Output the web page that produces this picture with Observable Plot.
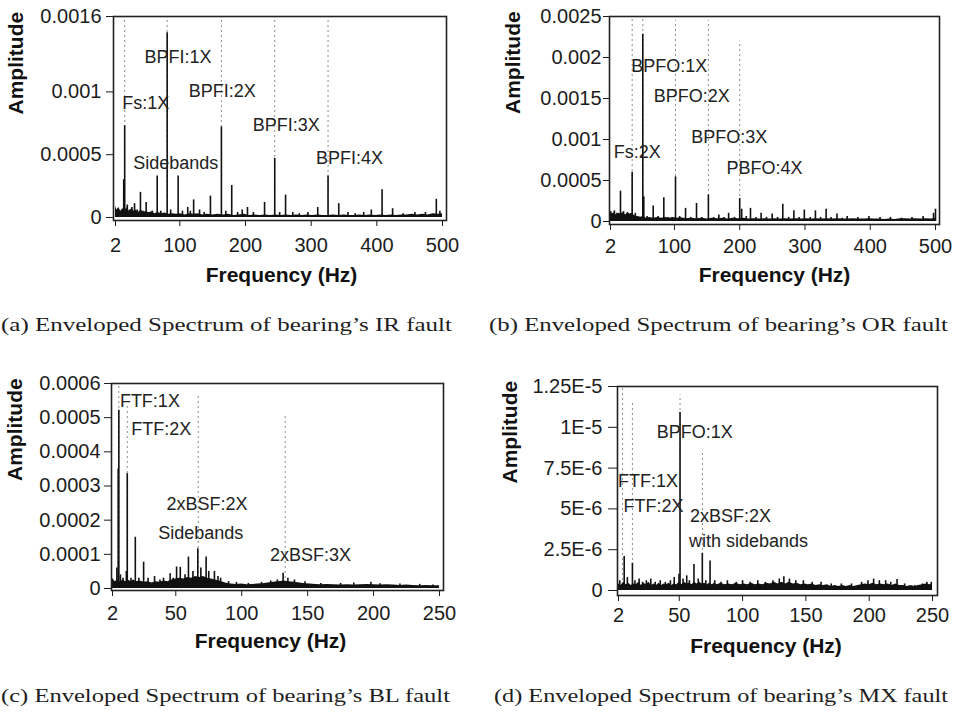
<!DOCTYPE html>
<html>
<head>
<meta charset="utf-8">
<script src="https://cdn.jsdelivr.net/npm/d3@7"></script>
<script src="https://cdn.jsdelivr.net/npm/@observablehq/plot@0.6"></script>
<style>
  html, body { margin: 0; padding: 0; background: #fff; }
  #root { position: relative; width: 959px; height: 716px; overflow: hidden; background: #fff; }
  .panel { position: absolute; }
  #captions { position: absolute; left: 0; top: 0; }
</style>
</head>
<body>
<div id="root"></div>
<script>
// ---------------- DATA ----------------
// Panel (a): IR fault, spectral peaks [frequency Hz, amplitude]
const spikesA = [[14.5,3.0e-4],[16,7.3e-4],[20,1.0e-4],[24,6e-5],[27,8e-5],[31,1.1e-4],[35,6e-5],[40,2.0e-4],[44,5e-5],[48.7,1.2e-4],[53,4e-5],[58,5e-5],[65.5,3.3e-4],[71,5e-5],[80.7,1.47e-3],[86,6e-5],[97.4,3.3e-4],[104,5e-5],[112,8e-5],[116,5e-5],[121,1.4e-4],[130,6e-5],[137,4e-5],[146.6,1.7e-4],[163.3,7.2e-4],[170,5e-5],[179,2.55e-4],[188,4e-5],[195,6e-5],[203,8e-5],[212,4e-5],[229,1.2e-4],[244.5,4.7e-4],[252,4e-5],[261,1.78e-4],[272,4e-5],[282,3e-5],[295,4e-5],[310,8e-5],[325.7,3.3e-4],[342,1.1e-4],[356,4e-5],[367,3e-5],[380,4e-5],[391.6,6e-5],[408,2.2e-4],[424,7e-5],[440,3e-5],[458,4e-5],[474,4e-5],[490.6,1.45e-4],[496,5e-5]];
const floorA = [[2,9e-5],[4,6e-5],[7,8e-5],[10,5e-5],[13,7e-5],[17,6e-5],[20,8e-5],[23,5e-5],[27,7e-5],[30,5e-5],[33,6e-5],[37,4e-5],[41,6e-5],[45,4e-5],[49,5e-5],[53,3.5e-5],[57,4.5e-5],[62,3e-5],[67,4e-5],[72,3e-5],[77,3.5e-5],[83,2.5e-5],[89,3e-5],[95,2.5e-5],[101,3e-5],[108,2e-5],[115,3e-5],[121,2.5e-5],[128,3e-5],[135,2e-5],[142,2.5e-5],[150,2e-5],[158,2.5e-5],[166,2e-5],[174,2.5e-5],[182,1.5e-5],[190,2e-5],[198,2.5e-5],[206,1.5e-5],[214,2e-5],[222,1.5e-5],[230,2e-5],[238,1.5e-5],[246,2e-5],[254,1.5e-5],[262,2e-5],[270,1.5e-5],[278,2e-5],[286,1.5e-5],[294,2e-5],[302,1.5e-5],[310,2e-5],[318,1.5e-5],[326,1.5e-5],[334,2e-5],[342,1.5e-5],[350,2e-5],[358,1.5e-5],[366,1.5e-5],[374,2e-5],[382,1.5e-5],[390,2e-5],[398,1.5e-5],[406,2e-5],[414,1.5e-5],[422,2e-5],[430,1.5e-5],[438,2e-5],[446,2e-5],[454,2.5e-5],[462,2e-5],[470,2.5e-5],[478,2e-5],[486,3e-5],[494,2.5e-5],[500,3e-5]];
const guidesA = [[16,1.6e-3],[80.7,1.6e-3],[163.3,1.6e-3],[244.5,1.6e-3],[325.7,1.6e-3]];
const labelsA = [{t:"BPFI:1X",f:46,a:1.274e-3},{t:"Fs:1X",f:12.2,a:9.07e-4},{t:"BPFI:2X",f:113.6,a:1.003e-3},{t:"BPFI:3X",f:211,a:7.32e-4},{t:"Sidebands",f:29,a:4.3e-4},{t:"BPFI:4X",f:307.5,a:4.7e-4}];
const xTicksA = [2,100,200,300,400,500];
const yTicksA = [0,0.0005,0.001,0.0016];
const yTickLabelsA = ["0","0.0005","0.001","0.0016"];

// Panel (b): OR fault
const spikesB = [[2.5,1.2e-4],[8,1.3e-4],[12,1e-4],[17.3,3.7e-4],[22,1.2e-4],[28,1.1e-4],[35.2,6.0e-4],[40,1e-4],[45,6e-5],[51.5,2.285e-3],[53,3e-4],[58,6e-5],[67.4,1.9e-4],[75,6e-5],[83.7,2.9e-4],[90,5e-5],[101.6,5.45e-4],[108,6e-5],[117,1.6e-4],[125,5e-5],[133.8,2.2e-4],[142,5e-5],[152,3.25e-4],[160,5e-5],[168,8e-5],[176,5e-5],[183,1.0e-4],[192,5e-5],[200,2.8e-4],[203,1.5e-4],[210,6e-5],[216.5,1.6e-4],[225,5e-5],[232.8,1.0e-4],[241,5e-5],[249.7,9e-5],[258,5e-5],[266,2.1e-4],[275,5e-5],[283,1.3e-4],[291,5e-5],[299,1.4e-4],[308,5e-5],[316,1.3e-4],[324,5e-5],[332.4,1.5e-4],[340,5e-5],[349,9e-5],[357,4e-5],[364.6,6e-5],[381,5e-5],[398,6e-5],[415,5e-5],[431,5e-5],[448,4e-5],[464,5e-5],[481,6e-5],[497,1.0e-4],[500,1.5e-4]];
const floorB = [[2,1.2e-4],[5,9e-5],[8,1.1e-4],[11,8e-5],[14,1e-4],[18,9e-5],[21,1.1e-4],[25,8e-5],[28,1e-4],[32,9e-5],[35,1e-4],[39,7e-5],[43,6e-5],[47,5e-5],[52,6e-5],[57,4e-5],[62,5e-5],[68,4e-5],[74,5e-5],[80,4e-5],[86,5e-5],[92,4e-5],[98,5e-5],[104,4e-5],[110,4.5e-5],[118,3.5e-5],[126,4e-5],[134,3.5e-5],[142,4e-5],[150,3e-5],[158,4e-5],[166,3.5e-5],[174,4e-5],[182,3e-5],[190,4e-5],[198,3.5e-5],[206,4e-5],[214,3e-5],[222,3.5e-5],[230,3e-5],[238,3.5e-5],[246,3e-5],[254,3.5e-5],[262,3e-5],[270,3.5e-5],[278,3e-5],[286,3.5e-5],[294,3e-5],[302,3.5e-5],[310,3e-5],[318,3.5e-5],[326,3e-5],[334,3.5e-5],[342,3e-5],[350,3.5e-5],[358,3e-5],[366,3e-5],[374,3.5e-5],[382,3e-5],[390,3e-5],[398,3.5e-5],[406,3e-5],[414,3e-5],[422,2.5e-5],[430,3e-5],[438,2.5e-5],[446,3.5e-5],[454,3.5e-5],[462,3e-5],[470,3.5e-5],[478,3e-5],[486,3.5e-5],[494,3e-5],[500,4e-5]];
const guidesB = [[35.2,2.5e-3],[51.5,2.5e-3],[101.6,2.45e-3],[152,2.45e-3],[200,2.2e-3]];
const labelsB = [{t:"BPFO:1X",f:33.7,a:1.888e-3},{t:"BPFO:2X",f:68.4,a:1.533e-3},{t:"Fs:2X",f:7.1,a:8.41e-4},{t:"BPFO:3X",f:125.6,a:1.024e-3},{t:"PBFO:4X",f:179.7,a:6.54e-4}];
const xTicksB = [2,100,200,300,400,500];
const yTicksB = [0,0.0005,0.001,0.0015,0.002,0.0025];
const yTickLabelsB = ["0","0.0005","0.001","0.0015","0.002","0.0025"];

// Panel (c): BL fault
const spikesC = [[3,2e-5],[5.3,6e-5],[6.3,3.5e-4],[6.8,5.22e-4],[8,4e-5],[10,3e-5],[12.5,5e-5],[13.2,3.36e-4],[16,3e-5],[19.3,1.5e-4],[22,3e-5],[25.6,7.7e-5],[29,3e-5],[33.9,3.5e-5],[38,2.5e-5],[40.7,3e-5],[45.7,4.3e-5],[48,3e-5],[50.6,6.3e-5],[53.4,6.2e-5],[57,4e-5],[59.6,9.2e-5],[63,5e-5],[66.7,1.16e-4],[69,6e-5],[73,9.2e-5],[75,5e-5],[79.3,5e-5],[82,3.5e-5],[84,3e-5],[90,2e-5],[96,1.8e-5],[105,1.5e-5],[115,1.8e-5],[122,2.2e-5],[127,2.5e-5],[131.4,4.5e-5],[135,3e-5],[140,2.5e-5],[148,2e-5],[160,1.5e-5],[175,1.5e-5],[185,1.6e-5],[198,1.8e-5],[205,1.4e-5],[220,1.3e-5],[235,1.2e-5],[245,1e-5]];
const floorC = [[2,3e-5],[4,2e-5],[6,2.5e-5],[8,2e-5],[10,2.5e-5],[12,2e-5],[14,2.5e-5],[16,2e-5],[18,2.5e-5],[20,2e-5],[23,2.2e-5],[26,1.8e-5],[29,2e-5],[32,1.6e-5],[35,2e-5],[38,1.8e-5],[41,2.2e-5],[44,2e-5],[47,2.5e-5],[50,2.8e-5],[53,3e-5],[56,2.8e-5],[59,3.2e-5],[62,3e-5],[65,3.5e-5],[68,3.2e-5],[71,3.5e-5],[74,3e-5],[77,2.8e-5],[80,2.5e-5],[83,2.2e-5],[86,1.8e-5],[89,1.5e-5],[92,1.3e-5],[96,1.2e-5],[100,1.3e-5],[104,1.1e-5],[108,1.2e-5],[112,1.3e-5],[116,1.4e-5],[120,1.6e-5],[124,1.8e-5],[128,2e-5],[132,2.2e-5],[136,2e-5],[140,1.8e-5],[144,1.6e-5],[148,1.4e-5],[152,1.3e-5],[156,1.2e-5],[160,1.1e-5],[165,1.2e-5],[170,1.1e-5],[175,1e-5],[180,1.1e-5],[185,1e-5],[190,1.1e-5],[195,1.2e-5],[200,1.1e-5],[205,1e-5],[210,1.1e-5],[215,1e-5],[220,9e-6],[225,1e-5],[230,9e-6],[235,8e-6],[240,9e-6],[245,8e-6],[250,8e-6]];
const guidesC = [[6.8,6e-4],[13.2,5.4e-4],[67,5.66e-4],[133,5.04e-4]];
const labelsC = [{t:"FTF:1X",f:7.6,a:5.49e-4},{t:"FTF:2X",f:16.2,a:4.65e-4},{t:"2xBSF:2X",f:43,a:2.47e-4},{t:"Sidebands",f:36.7,a:1.63e-4},{t:"2xBSF:3X",f:121.4,a:9.76e-5}];
const xTicksC = [2,50,100,150,200,250];
const yTicksC = [0,0.0001,0.0002,0.0003,0.0004,0.0005,0.0006];
const yTickLabelsC = ["0","0.0001","0.0002","0.0003","0.0004","0.0005","0.0006"];

// Panel (d): MX fault
const spikesD = [[3,6e-7],[6.5,2.08e-6],[9,8e-7],[13,1.67e-6],[15,6e-7],[18.3,7e-7],[21,5e-7],[24,6e-7],[27.5,7e-7],[31,5e-7],[35,6e-7],[39,5e-7],[43,6e-7],[46,8e-7],[49.8,1.0e-6],[50.6,1.09e-5],[53,7e-7],[55.9,9e-7],[58,6e-7],[61.6,1.6e-6],[65,7e-7],[68.2,2.28e-6],[71,6e-7],[74.3,1.8e-6],[78,6e-7],[83,5e-7],[88,6e-7],[95,5e-7],[100,6e-7],[106,5e-7],[112,6e-7],[118,5e-7],[124,6e-7],[129,7e-7],[132.6,8.5e-7],[137,7e-7],[142,6e-7],[148,6e-7],[155,5e-7],[162,5e-7],[170,4e-7],[178,4e-7],[186,4e-7],[194,5e-7],[199,6e-7],[203.5,7e-7],[208,6e-7],[213,6e-7],[217,5e-7],[222,6.7e-7],[228,4e-7],[236,3e-7],[242,4e-7],[245.6,5e-7],[249,5e-7]];
const floorD = [[2,4e-7],[4,3e-7],[6,5e-7],[8,3.5e-7],[10,4.5e-7],[12,3e-7],[14,4e-7],[16,3.5e-7],[18,5e-7],[20,3e-7],[22,4.5e-7],[24,3.5e-7],[26,5e-7],[28,3e-7],[30,4e-7],[32,3e-7],[34,4.5e-7],[36,3e-7],[38,4e-7],[40,3.5e-7],[42,4.5e-7],[44,3e-7],[46,4e-7],[48,3.5e-7],[50,5e-7],[52,3.5e-7],[54,5e-7],[56,4e-7],[58,4.5e-7],[60,3.5e-7],[62,5e-7],[64,4e-7],[66,5e-7],[68,4e-7],[70,4.5e-7],[72,3.5e-7],[74,4.5e-7],[76,3.5e-7],[78,4.5e-7],[80,3.5e-7],[83,4.5e-7],[86,3.5e-7],[89,4e-7],[92,3.5e-7],[95,4.5e-7],[98,3.5e-7],[101,4e-7],[104,3.5e-7],[107,4.5e-7],[110,3.5e-7],[113,4e-7],[116,3.5e-7],[119,4.5e-7],[122,4e-7],[125,5e-7],[128,4e-7],[131,5e-7],[134,4e-7],[137,5e-7],[140,4e-7],[143,4.5e-7],[146,3.5e-7],[149,4e-7],[152,3.5e-7],[155,4e-7],[158,3e-7],[161,3.5e-7],[164,3e-7],[167,3.5e-7],[170,2.5e-7],[173,3e-7],[176,2.5e-7],[179,3e-7],[182,2.5e-7],[185,3e-7],[188,2.5e-7],[191,3e-7],[194,3.5e-7],[197,4e-7],[200,3.5e-7],[203,4.5e-7],[206,3.5e-7],[209,4e-7],[212,3.5e-7],[215,4e-7],[218,3e-7],[221,4e-7],[224,3e-7],[227,3e-7],[230,2.5e-7],[233,3e-7],[236,2.5e-7],[239,3e-7],[242,3.5e-7],[245,4e-7],[248,3.5e-7],[250,4e-7]];
const guidesD = [[5.2,1.25e-5],[13,1.15e-5],[50.6,1.2e-5],[68.3,8.6e-6]];
const labelsD = [{t:"BPFO:1X",f:32.2,a:9.69e-6},{t:"FTF:1X",f:1.7,a:6.71e-6},{t:"FTF:2X",f:5.9,a:5.16e-6},{t:"2xBSF:2X",f:58.5,a:4.55e-6},{t:"with sidebands",f:57.7,a:3.02e-6}];
const xTicksD = [2,50,100,150,200,250];
const yTicksD = [0,2.5e-6,5e-6,7.5e-6,1e-5,1.25e-5];
const yTickLabelsD = ["0","2.5E-6","5E-6","7.5E-6","1E-5","1.25E-5"];

const captions = [
  "(a) Enveloped Spectrum of bearing\u2019s IR fault",
  "(b) Enveloped Spectrum of bearing\u2019s OR fault",
  "(c) Enveloped Spectrum of bearing\u2019s BL fault",
  "(d) Enveloped Spectrum of bearing\u2019s MX fault"
];

// ---------------- DRAWING ----------------
const FONT = "'Liberation Sans', Arial, Helvetica, sans-serif";

function drawPanel(c) {
  const yFmt = d => c.yTickLabels[c.yTicks.indexOf(d)];
  return Plot.plot({
    width: c.width, height: c.height,
    marginLeft: c.ml, marginRight: c.mr, marginTop: c.mt, marginBottom: c.mb,
    style: {background: "transparent", fontFamily: FONT, fontSize: "20px", color: "#1c1c1c", overflow: "visible"},
    x: {domain: c.xDomain, insetLeft: c.il, insetRight: c.ir, ticks: c.xTicks, tickFormat: d => String(d), tickSize: 6, tickPadding: c.xtp, label: null},
    y: {domain: c.yDomain, insetBottom: c.ib, ticks: c.yTicks, tickFormat: yFmt, tickSize: c.yts, tickPadding: c.ytp, label: null},
    marks: [
      Plot.ruleX(c.guides, {x: d => d[0], y1: 0, y2: d => d[1], stroke: "#8c8c8c", strokeWidth: 1, strokeDasharray: "2,3"}),
      Plot.areaY(c.floor, {x: d => d[0], y: d => d[1], fill: "#111"}),
      Plot.ruleX(c.spikes, {x: d => d[0], y1: 0, y2: d => d[1], stroke: "#111", strokeWidth: 1.6}),
      Plot.text(c.labels, {x: "f", y: "a", text: "t", textAnchor: "start", lineAnchor: "middle", fontSize: 18, fill: "#222"}),
      Plot.frame({stroke: "#222", strokeWidth: 1.6}),
      Plot.text(["Frequency (Hz)"], {frameAnchor: "bottom", lineAnchor: "top", dx: c.xlDx, dy: c.xlDy, fontWeight: "bold", fontSize: 21, fill: "#111"}),
      Plot.text(["Amplitude"], {frameAnchor: "left", rotate: -90, lineAnchor: "top", dx: c.ylDx, dy: c.ylDy, fontWeight: "bold", fontSize: 21, fill: "#111"})
    ]
  });
}

const panels = [
  {left: 0, top: 0, width: 470, height: 300, ml: 113, mr: 24, mt: 16, mb: 80, il: 2, ir: 4, ib: 3, xtp: 11, yts: 7, ytp: 5, xlDx: 1.5, xlDy: 47, ylDx: -105, ylDy: -4,
   xDomain: [2,500], yDomain: [0,0.0016], xTicks: xTicksA, yTicks: yTicksA, yTickLabels: yTickLabelsA, spikes: spikesA, floor: floorA, guides: guidesA, labels: labelsA},
  {left: 480, top: 0, width: 479, height: 300, ml: 129, mr: 20, mt: 16, mb: 76, il: 1, ir: 4, ib: 3, xtp: 8, yts: 6, ytp: 2, xlDx: 0, xlDy: 43, ylDx: -104, ylDy: -6.5,
   xDomain: [2,500], yDomain: [0,0.0025], xTicks: xTicksB, yTicks: yTicksB, yTickLabels: yTickLabelsB, spikes: spikesB, floor: floorB, guides: guidesB, labels: labelsB},
  {left: 0, top: 340, width: 470, height: 340, ml: 111, mr: 27, mt: 43, mb: 90, il: 1, ir: 4, ib: 2, xtp: 9, yts: 7, ytp: 4, xlDx: -7, xlDy: 43, ylDx: -104, ylDy: -6,
   xDomain: [2,250], yDomain: [0,0.0006], xTicks: xTicksC, yTicks: yTicksC, yTickLabels: yTickLabelsC, spikes: spikesC, floor: floorC, guides: guidesC, labels: labelsC},
  {left: 480, top: 340, width: 479, height: 340, ml: 137, mr: 22, mt: 46, mb: 85, il: 1, ir: 5, ib: 5, xtp: 6, yts: 9, ytp: 6, xlDx: -11.5, xlDy: 43, ylDx: -115, ylDy: -7.5,
   xDomain: [2,250], yDomain: [0,1.25e-5], xTicks: xTicksD, yTicks: yTicksD, yTickLabels: yTickLabelsD, spikes: spikesD, floor: floorD, guides: guidesD, labels: labelsD}
];

const root = document.getElementById("root");
for (const p of panels) {
  const div = document.createElement("div");
  div.className = "panel";
  div.style.left = p.left + "px";
  div.style.top = p.top + "px";
  div.appendChild(drawPanel(p));
  root.appendChild(div);
}

// captions
const capPos = [
  {x: 1, y: 331, len: 451},
  {x: 489, y: 331, len: 459},
  {x: 1, y: 702, len: 449},
  {x: 494, y: 702, len: 454}
];
const svg = d3.select(root).append("svg").attr("id", "captions").attr("width", 959).attr("height", 716);
svg.selectAll("text").data(captions).join("text")
  .attr("x", (d, i) => capPos[i].x)
  .attr("y", (d, i) => capPos[i].y)
  .attr("textLength", (d, i) => capPos[i].len)
  .attr("lengthAdjust", "spacingAndGlyphs")
  .attr("font-family", "'Liberation Serif', 'DejaVu Serif', serif")
  .attr("font-size", 18)
  .attr("fill", "#1e1e1e")
  .text(d => d);
</script>
</body>
</html>
